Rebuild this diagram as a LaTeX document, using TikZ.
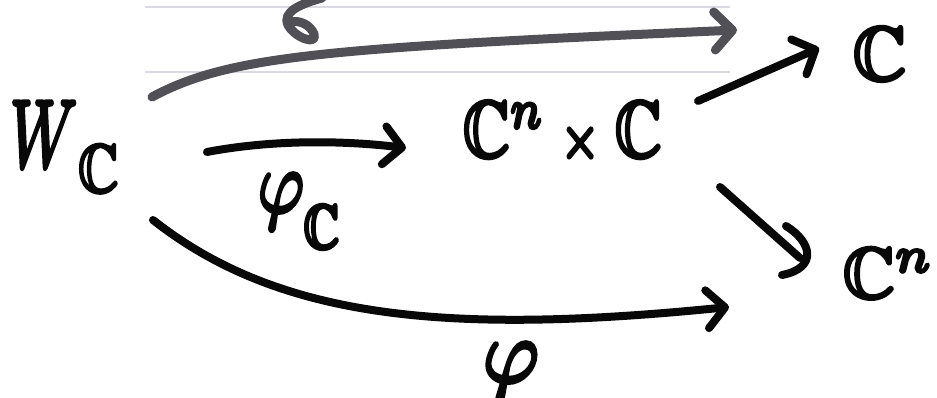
\documentclass[tikz,border=0pt]{standalone}
\usepackage{amssymb}
\usetikzlibrary{arrows.meta}
\definecolor{penblack}{RGB}{8,8,8}
\definecolor{pengrey}{RGB}{80,80,86}
\definecolor{ruled}{RGB}{218,218,226}
\newcommand\bolden[1]{\special{pdf:literal direct 2 Tr 0.45 w 1 j}#1\special{pdf:literal direct 0 Tr}}
\tikzset{
  lab/.style={inner sep=0pt, outer sep=0pt, text=penblack},
  pen/.style={draw=penblack, line width=8pt, line cap=round, line join=round},
  greypen/.style={draw=pengrey, line width=9pt, line cap=round, line join=round},
  barb/.style={-{Straight Barb[length=18pt,width=38pt,round]}},
  paperline/.style={draw=ruled, line width=1.2pt}
}
\begin{document}
\begin{tikzpicture}[x=1pt,y=-1pt]
\useasboundingbox (0,0) rectangle (937,398);
% faint ruled paper lines
\coordinate (r1a) at (145,7);  \coordinate (r1b) at (730,7);
\coordinate (r2a) at (145,72); \coordinate (r2b) at (730,72);
\draw[paperline] (r1a) -- (r1b);
\draw[paperline] (r2a) -- (r2b);

% objects
\node[lab, anchor=base west] (W) at (10,167) {\scalebox{6.2}[9.6]{\bolden{$W$}}\kern1pt\raisebox{-25pt}{\scalebox{5.6}[6.8]{\bolden{$\mathbb{C}$}}}};
\node[lab, anchor=base west] (P) at (463,157) {\scalebox{6.5}[8]{\bolden{$\mathbb{C}^{n}\mathbin{\scriptstyle\times}\mathbb{C}$}}};
\node[lab, anchor=base west] (C) at (853,80) {\scalebox{7.4}[7.6]{\bolden{$\mathbb{C}$}}};
\node[lab, anchor=base west] (Cn) at (843,298) {\scalebox{7.2}{\bolden{$\mathbb{C}^{n}$}}};

% labels
\node[lab, anchor=base west] (phiC) at (258,212) {\scalebox{7}[8.8]{\bolden{$\varphi_{\raisebox{-2.6pt}{$\scriptstyle\mathbb{C}$}}$}}};
\node[lab, anchor=base west] (phi) at (483,382) {\scalebox{8.5}[9]{\bolden{$\varphi$}}};

% connector end points
\coordinate (Wtop) at (152,97);
\coordinate (Wmid) at (207,152);
\coordinate (Wbot) at (153,220);
\coordinate (Pin) at (406,148);
\coordinate (topEnd) at (737,30);
\coordinate (botEnd) at (729,307);
\coordinate (Pout1) at (698,101);
\coordinate (Cin) at (819,48);
\coordinate (Pout2) at (720,187);
\coordinate (Cnin) at (800,258);
\coordinate (hookA) at (786,226);
\coordinate (hookB) at (782,275);

% grey upper arrow (partially cut label above it)
\draw[greypen, barb] (Wtop) .. controls (230,55) and (330,48) .. (topEnd);
\draw[greypen] (322,-2) .. controls (300,4) and (282,12) .. (288,25)
               .. controls (295,38) and (318,46) .. (314,34)
               .. controls (310,24) and (298,20) .. (292,22);

% phi_C arrow
\draw[pen, barb] (Wmid) .. controls (270,140) and (340,140) .. (Pin);
% phi arrow
\draw[pen, barb] (Wbot) .. controls (280,320) and (450,335) .. (botEnd);
% projections
\draw[pen, barb] (Pout1) -- (Cin);
\draw[pen] (Pout2) -- (Cnin);
\draw[pen] (hookA) .. controls (812,242) and (818,268) .. (hookB);
\end{tikzpicture}
\end{document}
